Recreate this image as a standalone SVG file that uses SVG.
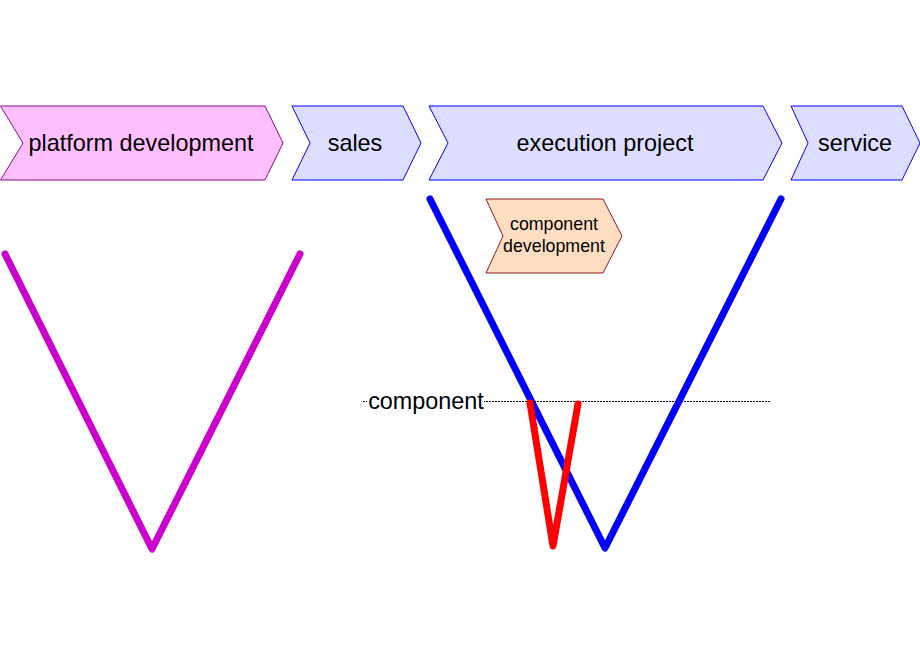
<svg xmlns="http://www.w3.org/2000/svg" width="920" height="660" viewBox="0 0 920 660">
<style>
text{font-family:"Liberation Sans",Arial,sans-serif;fill:#000;text-anchor:middle}
.big{font-size:23.4px}
.small{font-size:17.8px}
.pink{fill:#FFBFFF;stroke:#8B0A8B;stroke-width:1}
.blue{fill:#DDDEFF;stroke:#0000FF;stroke-width:1}
.orange{fill:#FFDDC0;stroke:#8B1A1A;stroke-width:1}
.v{fill:none;stroke-width:7;stroke-linecap:round;stroke-linejoin:round}
</style>
<rect width="920" height="660" fill="#fff"/>
<g id="platform-development">
<polygon class="pink" points="0.5,106 265,106 283,143 265,180 0.5,180 23,143"/>
<text class="big" x="141" y="151">platform development</text>
</g>
<g id="sales">
<polygon class="blue" points="292,106 403,106 421,143 403,180 292,180 310,143"/>
<text class="big" x="355" y="151">sales</text>
</g>
<g id="execution-project">
<polygon class="blue" points="429,106 763,106 782,143 763,180 429,180 448,143"/>
<text class="big" x="605" y="151">execution project</text>
</g>
<g id="service">
<polygon class="blue" points="791,106 902,106 920,143 902,180 791,180 808,143"/>
<text class="big" x="855" y="151">service</text>
</g>
<g id="component-development">
<polygon class="orange" points="486,199 603,199 622,236 603,273 486,273 503,236"/>
<text class="small" x="554" y="230">component</text>
<text class="small" x="554" y="252">development</text>
</g>
<g id="connectors">
<line x1="363" y1="401.5" x2="771" y2="401.5" stroke="#000" stroke-width="1" stroke-dasharray="2,1"/>
<polyline class="v" stroke="#CC00CC" points="5,254 152,549 300,254"/>
<polyline class="v" stroke="#0000FF" points="430,199 605,548 781,199"/>
<polyline class="v" stroke="#FF0000" points="530,403 553,546 578,404"/>
</g>
<g id="component-label">
<rect x="367" y="392" width="117" height="20" fill="#fff"/>
<text class="big" x="426" y="409">component</text>
</g>
</svg>
